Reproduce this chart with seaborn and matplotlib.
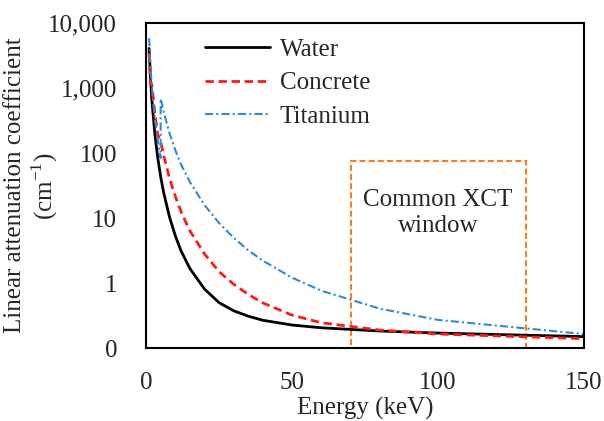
import numpy as np
import pandas as pd
import seaborn as sns
import matplotlib.pyplot as plt
from matplotlib.ticker import FuncFormatter, LogLocator, MultipleLocator
from matplotlib.patches import Rectangle

# energies in keV and attenuation values
water_e = [1, 1.5, 2, 3, 4, 5, 6, 8, 10, 12, 15, 20, 25, 30, 35, 40, 50, 60, 80, 100, 150]
water_mu = [4078, 1376, 617.3, 192.9, 82.78, 42.58, 24.64, 10.37, 5.329, 3.1, 1.673,
            0.8096, 0.5, 0.3756, 0.31, 0.2683, 0.2269, 0.2059, 0.1837, 0.1707, 0.1505]

concrete_e = [1, 1.5, 2, 3, 4, 5, 6, 8, 10, 12, 15, 20, 25, 30, 35, 40, 50, 60, 80, 100, 150]
concrete_mu = [3466, 1193, 1100, 400, 190, 150, 92, 41, 21.5, 12.4, 6.35,
               2.81, 1.5, 0.96, 0.67, 0.496, 0.322, 0.246, 0.19, 0.165, 0.14]

titanium_e = [1, 1.5, 2, 3, 4, 4.966, 4.966, 5, 6, 8, 10, 12, 15, 20, 25, 30, 35, 40,
              50, 60, 80, 100, 150]
titanium_mu = [5869, 2096, 986.0, 332.3, 151.7, 83.8, 687.8, 683.8, 432.3, 202.4, 110.7,
               66, 35.87, 15.85, 8.4, 4.972, 3.2, 2.214, 1.213, 0.7661, 0.4052, 0.2721, 0.1649]

window_kev = [70, 130]
window_top = 76

sns.set_style('white')
plt.rcParams['font.family'] = ['Liberation Serif', 'DejaVu Serif']
plt.rcParams['mathtext.fontset'] = 'custom'
plt.rcParams['mathtext.rm'] = 'Liberation Serif'
plt.rcParams['font.size'] = 18

fig = plt.figure(figsize=(6.04, 4.21), dpi=100)
ax = fig.add_axes([0.242, 0.173, 0.725, 0.772])

sns.lineplot(x=water_e, y=water_mu, ax=ax, color='black', lw=2,
             estimator=None, sort=False, label='Water')
sns.lineplot(x=concrete_e, y=concrete_mu, ax=ax, color='#FF1A1A', lw=2,
             estimator=None, sort=False, label='Concrete')
sns.lineplot(x=titanium_e, y=titanium_mu, ax=ax, color='#2E8BD0', lw=1.5,
             estimator=None, sort=False, label='Titanium')
ax.lines[1].set_dashes([3, 1.7])
ax.lines[2].set_dashes([3.9, 1.5, 1, 1.5])

ax.add_patch(Rectangle((window_kev[0], 0.1), window_kev[1] - window_kev[0], window_top - 0.1,
                       fill=False, ec='#F57F20', lw=1.5, ls=(0, (2.9, 1.5)), zorder=1))
ax.text(100, 12, 'Common XCT\nwindow', ha='center', va='center', fontsize=18,
        linespacing=1.2)

ax.set_yscale('log')
ax.set_xlim(0, 150)
ax.set_ylim(0.1, 10000)
ax.xaxis.set_major_locator(MultipleLocator(50))
ax.xaxis.set_minor_locator(MultipleLocator(10))
ax.yaxis.set_major_locator(LogLocator(base=10, numticks=10))
ax.yaxis.set_minor_locator(LogLocator(base=10, subs=np.arange(2, 10), numticks=20))
ax.yaxis.set_major_formatter(FuncFormatter(lambda v, p: '{:,.0f}'.format(v)))
ax.tick_params(which='both', direction='in', color='black', width=1.3, labelsize=18)
ax.tick_params(which='major', length=7)
ax.tick_params(which='minor', length=4)
ax.tick_params(axis='x', which='major', pad=17)
ax.tick_params(axis='y', which='major', pad=21)
for s in ax.spines.values():
    s.set_color('black')
    s.set_linewidth(1.5)

ax.set_xlabel('Energy (keV)', fontsize=18, labelpad=2)
ax.set_ylabel('Linear attenuation coefficient\n(cm$^{-1}$)', fontsize=18,
              linespacing=1.15)
ax.yaxis.set_label_coords(-0.197, 0.5)

ax.legend(loc='upper left', bbox_to_anchor=(0.1, 1.0), frameon=False, fontsize=18,
          handlelength=2.6, labelspacing=0.45, handletextpad=0.4, borderaxespad=0.2)

fig.savefig('out.png', dpi=100)
